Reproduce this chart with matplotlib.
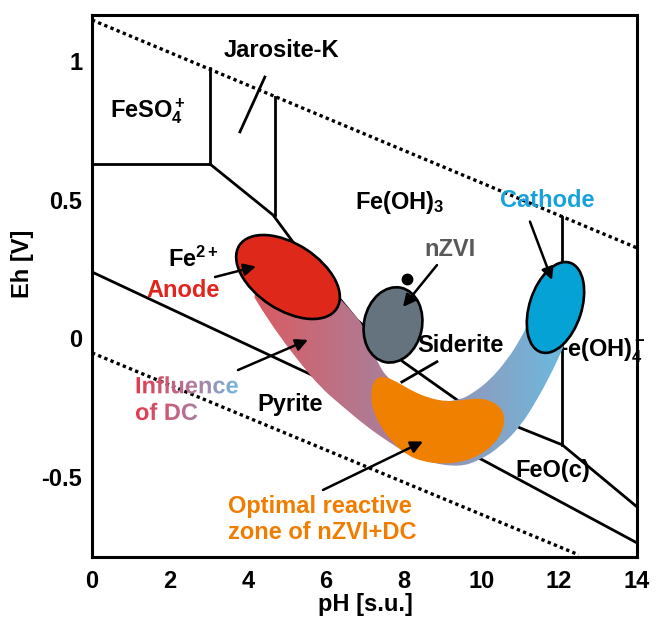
import numpy as np
import matplotlib
matplotlib.use('Agg')
import matplotlib.pyplot as plt
from matplotlib.patches import Ellipse, PathPatch
from matplotlib.path import Path
from matplotlib.textpath import TextPath
from matplotlib.font_manager import FontProperties
from matplotlib.colors import LinearSegmentedColormap
import matplotlib.transforms as mtransforms

plt.rcParams['font.family'] = 'Liberation Sans'
plt.rcParams['font.weight'] = 'bold'
plt.rcParams['mathtext.fontset'] = 'custom'
plt.rcParams['mathtext.rm'] = 'Liberation Sans:bold'
plt.rcParams['mathtext.it'] = 'Liberation Sans:bold'
plt.rcParams['mathtext.bf'] = 'Liberation Sans:bold'
plt.rcParams['mathtext.default'] = 'rm'

# ---------------- data (pH, Eh [V]) ----------------
x_ticks = [0, 2, 4, 6, 8, 10, 12, 14]
x_ticklabels = ['0', '2', '4', '6', '8', '10', '12', '14']
y_ticks = [-0.5, 0, 0.5, 1]
y_ticklabels = ['-0.5', '0', '0.5', '1']

# water stability limits (dotted)
water_upper_ph = [0, 14]
water_upper_eh = [1.149, 0.326]
water_lower_ph = [0, 12.5]
water_lower_eh = [-0.053, -0.782]

# stability field boundaries (solid)
feso4_h_ph = [0, 3.03]
feso4_h_eh = [0.629, 0.629]
feso4_v_ph = [3.03, 3.03]
feso4_v_eh = [0.629, 0.976]
fe2_fe3_ph = [3.03, 4.65, 5.16, 6.81, 7.99, 9.45, 11.05, 12.08, 14.0]
fe2_fe3_eh = [0.629, 0.445, 0.348, 0.066, -0.085, -0.230, -0.327, -0.385, -0.609]
jaro_v_ph = [4.70, 4.70]
jaro_v_eh = [0.445, 0.871]
jaro_slash_ph = [3.80, 4.44]
jaro_slash_eh = [0.745, 0.943]
pyrite_ph = [0, 5.65, 10.04, 14.0]
pyrite_eh = [0.239, -0.133, -0.440, -0.739]
feoh4_v_ph = [12.07, 12.07]
feoh4_v_eh = [0.438, -0.385]
siderite_ptr_ph = [7.96, 8.86]
siderite_ptr_eh = [-0.158, -0.085]

# zones (ellipse centres)
anode_c = (5.035, 0.221)
nzvi_c = (7.732, 0.048)
cathode_c = (11.906, 0.111)
nzvi_dot = (8.091, 0.214)

# optimal reactive zone outline
opt_ph = [7.226, 7.483, 7.827, 8.253, 8.682, 9.111, 9.538, 9.882, 10.224, 10.524,
          10.609, 10.524, 10.308, 9.967, 9.538, 9.024, 8.511, 8.084, 7.740, 7.442,
          7.226, 7.159]
opt_eh = [-0.151, -0.136, -0.157, -0.193, -0.217, -0.229, -0.223, -0.217, -0.223, -0.253,
          -0.295, -0.343, -0.385, -0.422, -0.446, -0.454, -0.446, -0.422, -0.379, -0.325,
          -0.265, -0.211]

# influence-of-DC band outline (outer edge then inner edge)
band_ph = [4.059, 4.315, 4.829, 5.343, 5.857, 6.448, 7.064, 7.655, 8.169, 8.683,
           9.453, 9.967, 10.481, 10.995, 11.431, 11.842, 12.099, 12.279,
           11.508, 11.251, 10.995, 10.660, 10.224, 9.787, 9.453, 8.939, 8.425,
           7.912, 7.578, 7.398, 7.193, 6.935, 6.704, 6.293, 5.857]
band_eh = [0.174, 0.113, 0.005, -0.089, -0.176, -0.248, -0.320, -0.378, -0.422, -0.450,
           -0.465, -0.440, -0.393, -0.320, -0.223, -0.115, -0.035, 0.030,
           0.138, 0.066, -0.006, -0.079, -0.151, -0.198, -0.223, -0.230, -0.212,
           -0.180, -0.140, -0.104, -0.042, 0.055, 0.091, 0.156, 0.192]

# arrows: (tail, head)
arrows = [((3.160, 0.221), (4.213, 0.259)),
          ((3.750, -0.115), (5.548, -0.006)),
          ((8.862, 0.264), (7.989, 0.113)),
          ((11.25, 0.421), (11.816, 0.210)),
          ((5.934, -0.548), (8.502, -0.373))]

# ---------------- figure ----------------
W, H = 659, 621
fig = plt.figure(figsize=(W / 100, H / 100), dpi=100)
ax = fig.add_axes([92 / W, 64 / H, 545 / W, 542 / H])
FS = 17

def px_offset(x, y):
    return mtransforms.Affine2D() + mtransforms.ScaledTranslation(x, y, ax.transData)

def smooth_closed(xs, ys):
    pts = list(zip(xs, ys))
    n = len(pts)
    mids = [((pts[i][0] + pts[(i + 1) % n][0]) / 2, (pts[i][1] + pts[(i + 1) % n][1]) / 2)
            for i in range(n)]
    verts = [mids[-1]]
    codes = [Path.MOVETO]
    for i in range(n):
        verts += [pts[i], mids[i]]
        codes += [Path.CURVE3, Path.CURVE3]
    verts.append(mids[-1])
    codes.append(Path.CLOSEPOLY)
    return Path(verts, codes)

dot_style = dict(color='black', lw=2.4, linestyle=(0, (1, 1.0)), zorder=2)
ax.plot(water_upper_ph, water_upper_eh, **dot_style)
ax.plot(water_lower_ph, water_lower_eh, **dot_style)

line_style = dict(color='black', lw=2.0, zorder=2, solid_joinstyle='miter')
for xs, ys in [(feso4_h_ph, feso4_h_eh), (feso4_v_ph, feso4_v_eh), (fe2_fe3_ph, fe2_fe3_eh),
               (jaro_v_ph, jaro_v_eh), (jaro_slash_ph, jaro_slash_eh), (pyrite_ph, pyrite_eh),
               (feoh4_v_ph, feoh4_v_eh), (siderite_ptr_ph, siderite_ptr_eh)]:
    ax.plot(xs, ys, **line_style)

# species labels
lab = dict(fontsize=FS, color='black', zorder=3)
ax.text(4.855, 1.040, 'Jarosite-K', ha='center', va='center', **lab)
ax.text(0.462, 0.799, r'FeSO$_4^+$', ha='left', va='baseline', **lab)
ax.text(1.952, 0.258, r'Fe$^{2+}$', ha='left', va='baseline', **lab)
ax.text(6.756, 0.466, r'Fe(OH)$_3$', ha='left', va='baseline', **lab)
ax.text(9.453, -0.028, 'Siderite', ha='center', va='center', **lab)
ax.text(11.84, -0.066, r'Fe(OH)$_4^-$', ha='left', va='baseline', **lab)
ax.text(5.086, -0.262, 'Pyrite', ha='center', va='baseline', **lab)
ax.text(10.866, -0.500, 'FeO(c)', ha='left', va='baseline', **lab)

ax.text(2.338, 0.174, 'Anode', ha='center', va='center', fontsize=FS, color='#e3241c', zorder=3)
ax.text(11.688, 0.496, 'Cathode', ha='center', va='center', fontsize=FS, color='#17a2dc', zorder=3)
ax.text(9.196, 0.319, 'nZVI', ha='center', va='center', fontsize=FS, color='#595959', zorder=3)
ax.text(3.494, -0.630, 'Optimal reactive', ha='left', va='baseline', fontsize=FS, color='#f07d00', zorder=3)
ax.text(3.494, -0.726, 'zone of nZVI+DC', ha='left', va='baseline', fontsize=FS, color='#f07d00', zorder=3)

# gradient text "Influence of DC"
fp = FontProperties(family='Liberation Sans', weight='bold')
txt_cmap = LinearSegmentedColormap.from_list('txt', ['#e23a4c', '#c8607c', '#a08cb0', '#6cc0e8'])
grad = np.linspace(0, 1, 256).reshape(1, -1)
for s, x0, y0 in [('Influence', 1.105, -0.199), ('of DC', 1.105, -0.295)]:
    tp = TextPath((0, 0), s, size=FS * 100 / 72, prop=fp)
    tpatch = PathPatch(tp, transform=px_offset(x0, y0))
    im = ax.imshow(grad, extent=[1.105, 3.90, y0 - 0.03, y0 + 0.09], cmap=txt_cmap,
                   aspect='auto', interpolation='bilinear', zorder=3)
    im.set_clip_path(tpatch)

# influence band with gradient
band_cmap = LinearSegmentedColormap.from_list(
    'band', [(0, '#dc5a60'), (0.45, '#a8809c'), (0.7, '#8c9dc0'), (1, '#6bbbe0')])
band_patch = PathPatch(smooth_closed(band_ph, band_eh), transform=ax.transData)
bim = ax.imshow(grad, extent=[4.06, 12.28, -0.5, 0.25], cmap=band_cmap, aspect='auto',
                interpolation='bilinear', zorder=4)
bim.set_clip_path(band_patch)

# optimal zone
ax.add_patch(PathPatch(smooth_closed(opt_ph, opt_eh), facecolor='#f08000', edgecolor='none', zorder=5))

# ellipses
ax.add_patch(Ellipse((0, 0), 116, 66, angle=-33, facecolor='#de2819', edgecolor='black', lw=1.9,
                     transform=px_offset(*anode_c), zorder=6))
ax.add_patch(Ellipse((0, 0), 76, 58, angle=78, facecolor='#64737d', edgecolor='black', lw=1.9,
                     transform=px_offset(*nzvi_c), zorder=6))
ax.add_patch(Ellipse((0, 0), 94, 52, angle=72, facecolor='#05a2d6', edgecolor='black', lw=1.9,
                     transform=px_offset(*cathode_c), zorder=6))
ax.plot([nzvi_dot[0]], [nzvi_dot[1]], 'o', color='black', ms=7.5, zorder=8)

for tail, head in arrows:
    ax.annotate('', xy=head, xytext=tail,
                arrowprops=dict(arrowstyle='-|>', color='black', lw=1.8, mutation_scale=18,
                                shrinkA=0, shrinkB=0), zorder=7)

ax.set_xlim(0, 14)
ax.set_ylim(-0.790, 1.167)
ax.set_aspect('auto')
ax.set_xticks(x_ticks)
ax.set_xticklabels(x_ticklabels)
ax.set_yticks(y_ticks)
ax.set_yticklabels(y_ticklabels)
ax.tick_params(axis='x', length=0, labelsize=FS, pad=9)
ax.tick_params(axis='y', length=0, labelsize=FS, pad=7)
for sp in ax.spines.values():
    sp.set_linewidth(2.2)

fig.text(22 / W, 1 - 264 / H, 'Eh [V]', rotation=90, ha='center', va='center', fontsize=FS)
fig.text(365 / W, 1 - 605 / H, 'pH [s.u.]', ha='center', va='center', fontsize=FS)

fig.savefig('out.png', dpi=100)
